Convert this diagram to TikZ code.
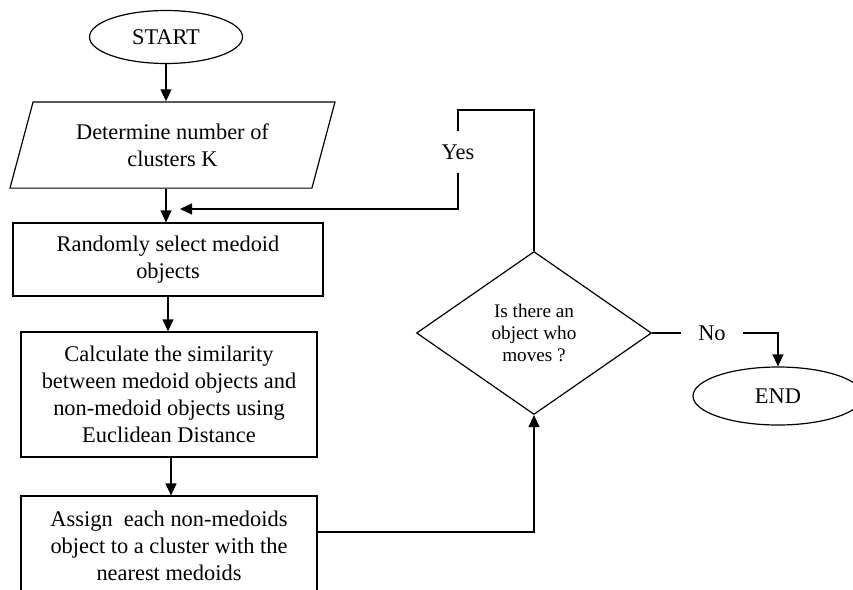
\documentclass[tikz,border=0pt]{standalone}
\usepackage{fontspec}
\setmainfont{Liberation Serif}
\usetikzlibrary{arrows.meta,shapes.geometric}

\begin{document}
\begin{tikzpicture}[x=0.5pt,y=-0.5pt,line width=0.6pt,>={Triangle[length=6pt,width=5.5pt]},font=\fontsize{11.2}{13.5}\selectfont]
    \tikzstyle{terminal}=[ellipse,draw,inner sep=0pt]
    \tikzstyle{process}=[rectangle,draw,align=center,inner sep=0pt]
    \tikzstyle{io}=[trapezium,trapezium left angle=75,trapezium right angle=105,trapezium stretches body=true,draw,align=center,inner xsep=0pt,inner ysep=10.8pt]
    \tikzstyle{decision}=[diamond,draw,align=center,inner sep=0pt,font=\fontsize{9.6}{11}\selectfont]
    \tikzstyle{answer}=[fill=white,inner xsep=8.5pt,inner ysep=7pt]
    \useasboundingbox (0,0) rectangle (853,590);
    \node[terminal,minimum width=76.5pt,minimum height=26.5pt] (start) at (166,37) {START};
    \node[io,minimum width=162.5pt] (k) at (172.5,145) {Determine number of\\clusters K};
    \node[process,minimum width=155pt,minimum height=36.5pt] (random) at (168,259.5) {Randomly select medoid\\objects};
    \node[process,minimum width=148pt,minimum height=62.5pt] (similarity) at (169,394.5) {Calculate the similarity\\between medoid objects and\\non-medoid objects using\\Euclidean Distance};
    \node[process,minimum width=148pt,minimum height=49.5pt] (assign) at (169,545.5) {Assign\ \ each non-medoids\\object to a cluster with the\\nearest medoids};
    \node[decision,minimum width=117.5pt,minimum height=81.5pt] (moves) at (534,333) {Is there an\\object who\\moves ?};
    \node[terminal,minimum width=85pt,minimum height=29pt] (end) at (778,396) {END};
    \coordinate (k1) at (458,110);
    \coordinate (k2) at (458,209);
    \coordinate (back) at (180,209);
    \coordinate (k3) at (534,532);
    \draw[->] (start) -- (start |- k.north);
    \draw[->] (start |- k.south) -- (start |- random.north);
    \draw[->] (random) -- (random |- similarity.north);
    \draw[->] ([xshift=1pt]similarity.south) -- ([xshift=1pt]assign.north);
    \draw[->] (assign.east |- k3) -- (k3) -- (moves.south);
    \draw[->] (moves.north) |- (k1) -- (k2) -- (back);
    \draw[->] (moves.east) -| (end.north);
    \node[answer] (yes) at (458,152) {Yes};
    \node[answer] (no) at (712,333) {No};
\end{tikzpicture}
\end{document}
